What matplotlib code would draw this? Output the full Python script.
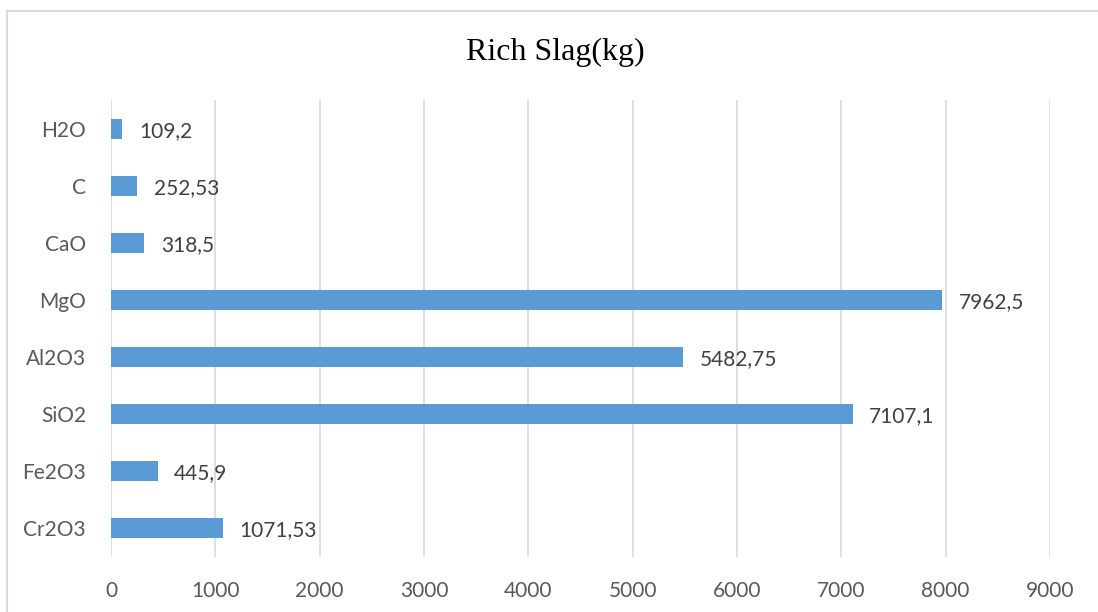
import matplotlib
matplotlib.use("Agg")
import matplotlib.pyplot as plt
from matplotlib.patches import Rectangle

categories = ["Cr2O3", "Fe2O3", "SiO2", "Al2O3", "MgO", "CaO", "C", "H2O"]
values = [1071.53, 445.9, 7107.1, 5482.75, 7962.5, 318.5, 252.53, 109.2]
value_labels = ["1071,53", "445,9", "7107,1", "5482,75", "7962,5", "318,5", "252,53", "109,2"]
x_ticks = [0, 1000, 2000, 3000, 4000, 5000, 6000, 7000, 8000, 9000]
title = "Rich Slag(kg)"

W, H = 1098, 612
fig = plt.figure(figsize=(W / 100, H / 100), dpi=100)
ax = fig.add_axes([111 / W, 1 - 557 / H, (1050 - 111) / W, (557 - 100) / H])

FS = 15
ypos = list(range(len(categories)))
ax.barh(ypos, values, height=0.35, color="#5B9BD5", zorder=3)
for y, v, lab in zip(ypos, values, value_labels):
    ax.annotate(lab, (v, y), xytext=(12, -1.5), textcoords="offset points",
                ha="left", va="center", fontsize=FS, color="#404040",
                family="Lato")

ax.set_xlim(0, 9000)
ax.set_ylim(-0.5, 7.5)
ax.set_xticks(x_ticks)
ax.set_xticklabels([str(t) for t in x_ticks], family="Lato", fontsize=FS, color="#595959")
ax.set_yticks(ypos)
ax.set_yticklabels(categories, family="Lato", fontsize=FS, color="#595959")
ax.tick_params(axis="both", length=0)
ax.tick_params(axis="x", pad=17)
ax.tick_params(axis="y", pad=18)
ax.grid(axis="x", color="#d9d9d9", linewidth=1.2, zorder=0)
for s in ax.spines.values():
    s.set_visible(False)

fig.text(555 / W, 1 - 52 / H, title, ha="center", va="center",
         family="Liberation Serif", fontsize=23, color="#000000")

fig.patches.append(Rectangle((7 / W, -0.1), 1.2, 1.1 - 11 / H,
                             transform=fig.transFigure, fill=False,
                             edgecolor="#d9d9d9", linewidth=1.5))

fig.savefig("out.png", dpi=100)
